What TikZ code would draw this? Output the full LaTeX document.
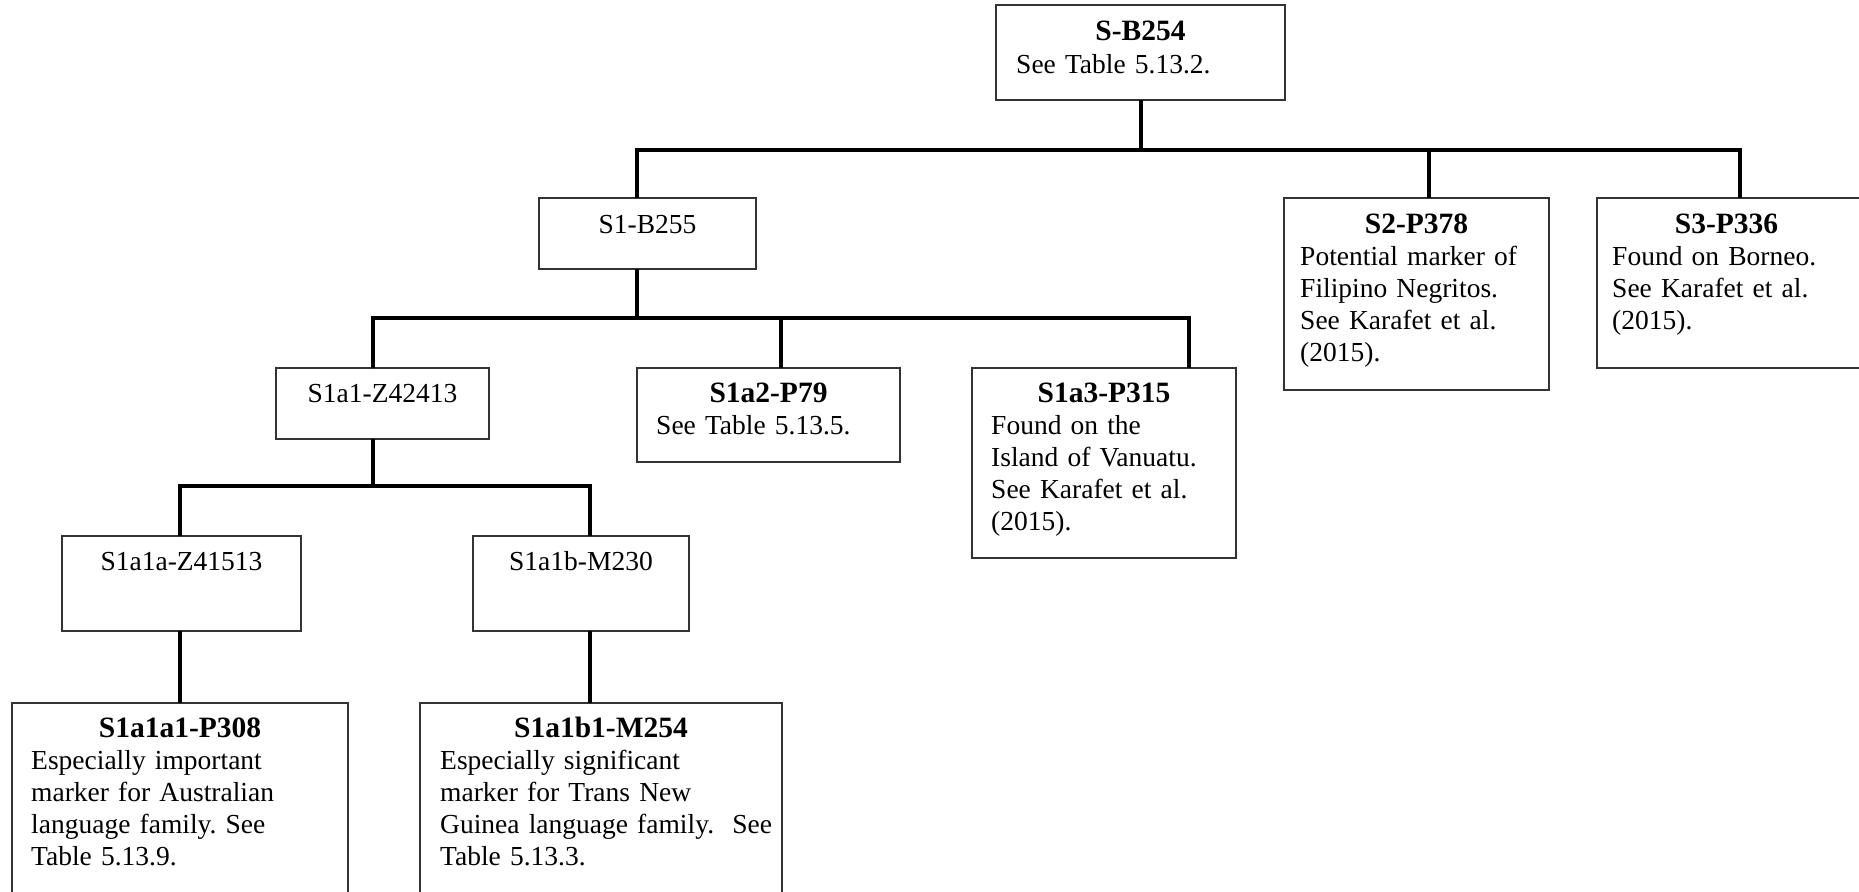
\documentclass[tikz,border=0pt]{standalone}
\usepackage{fontspec}
\setmainfont{Liberation Serif}
\newcommand{\mybox}[5]{\node[boxst, minimum width={#4-#2}, minimum height={#5-#3}] (#1) at (#2,#3) {};}
\begin{document}
\frenchspacing
\begin{tikzpicture}[x=1pt,y=-1pt,
  boxst/.style={draw=black!80, line width=1.3pt, inner sep=0pt, outer sep=0pt, anchor=north west},
  ttl/.style={anchor=base, inner sep=0pt, font=\fontsize{27.5}{32}\selectfont},
  bttl/.style={anchor=base, inner sep=0pt, font=\fontsize{29.5}{32}\selectfont\bfseries},
  bodytxt/.style={anchor=north west, inner sep=0pt, text width=420pt, align=left, font=\fontsize{27.5}{32}\selectfont},
  conn/.style={line width=3.2pt, line join=miter}]
\useasboundingbox (0,0) rectangle (1859,891);
\clip (0,0) rectangle (1859,891);

% boxes
\mybox{B0}{996}{5}{1285}{100}
\mybox{B1}{539}{198}{756}{269}
\mybox{B2}{1284}{198}{1549}{390}
\mybox{B3}{1597}{198}{1862}{368}
\mybox{B11}{276}{368}{489}{439}
\mybox{B12}{637}{368}{900}{462}
\mybox{B13}{972}{368}{1236}{558}
\mybox{B111}{62}{536}{301}{631}
\mybox{B112}{473}{536}{689}{631}
\mybox{B1111}{12}{703}{348}{905}
\mybox{B1121}{420}{703}{782}{905}

% titles
\node[bttl] (B0t) at ([yshift=-36pt]B0.north) {S-B254};
\node[ttl] (B1t) at ([yshift=-35pt]B1.north) {S1-B255};
\node[bttl] (B2t) at ([yshift=-35pt]B2.north) {S2-P378};
\node[bttl] (B3t) at ([xshift=-3pt,yshift=-35pt]B3.north) {S3-P336};
\node[ttl] (B11t) at ([yshift=-34pt]B11.north) {S1a1-Z42413};
\node[bttl] (B12t) at ([yshift=-34pt]B12.north) {S1a2-P79};
\node[bttl] (B13t) at ([yshift=-34pt]B13.north) {S1a3-P315};
\node[ttl] (B111t) at ([yshift=-34pt]B111.north) {S1a1a-Z41513};
\node[ttl] (B112t) at ([yshift=-34pt]B112.north) {S1a1b-M230};
\node[bttl] (B1111t) at ([yshift=-34pt]B1111.north) {S1a1a1-P308};
\node[bttl] (B1121t) at ([yshift=-34pt]B1121.north) {S1a1b1-M254};

% body texts
\node[bodytxt] (B0b) at ([xshift=20pt,yshift=-45.6pt]B0.north west) {\strut See Table 5.13.2.};
\node[bodytxt] (B2b) at ([xshift=16pt,yshift=-44.6pt]B2.north west) {\strut Potential marker of\\Filipino Negritos.\\See Karafet et al.\\(2015).};
\node[bodytxt] (B3b) at ([xshift=15pt,yshift=-44.6pt]B3.north west) {\strut Found on Borneo.\\See Karafet et al.\\(2015).};
\node[bodytxt] (B12b) at ([xshift=19pt,yshift=-43.6pt]B12.north west) {\strut See Table 5.13.5.};
\node[bodytxt] (B13b) at ([xshift=19pt,yshift=-43.6pt]B13.north west) {\strut Found on the\\Island of Vanuatu.\\See Karafet et al.\\(2015).};
\node[bodytxt] (B1111b) at ([xshift=19pt,yshift=-43.6pt]B1111.north west) {\strut Especially important\\marker for Australian\\language family. See\\Table 5.13.9.};
\node[bodytxt] (B1121b) at ([xshift=20pt,yshift=-43.6pt]B1121.north west) {\strut Especially significant\\marker for Trans New\\Guinea language family.\ \ See\\Table 5.13.3.};

% connectors level 1
\coordinate (j0) at (1141,150);
\coordinate (k1) at (637,150);
\coordinate (k2) at (1429,150);
\coordinate (k3) at (1740,150);
\draw[conn] (B0.south -| j0) -- (j0);
\draw[conn] (k1 |- B1.north) -- (k1) -- (k3) -- (k3 |- B3.north);
\draw[conn] (k2) -- (k2 |- B2.north);

% connectors level 2
\coordinate (j1) at (637,318);
\coordinate (m1) at (373,318);
\coordinate (m2) at (781,318);
\coordinate (m3) at (1189,318);
\draw[conn] (B1.south -| j1) -- (j1);
\draw[conn] (m1 |- B11.north) -- (m1) -- (m3) -- (m3 |- B13.north);
\draw[conn] (m2) -- (m2 |- B12.north);

% connectors level 3
\coordinate (j2) at (373,486);
\coordinate (n1) at (180,486);
\coordinate (n2) at (590,486);
\draw[conn] (B11.south -| j2) -- (j2);
\draw[conn] (n1 |- B111.north) -- (n1) -- (n2) -- (n2 |- B112.north);

% connectors level 4
\draw[conn] (B111.south -| n1) -- (n1 |- B1111.north);
\draw[conn] (B112.south -| n2) -- (n2 |- B1121.north);
\end{tikzpicture}
\end{document}
